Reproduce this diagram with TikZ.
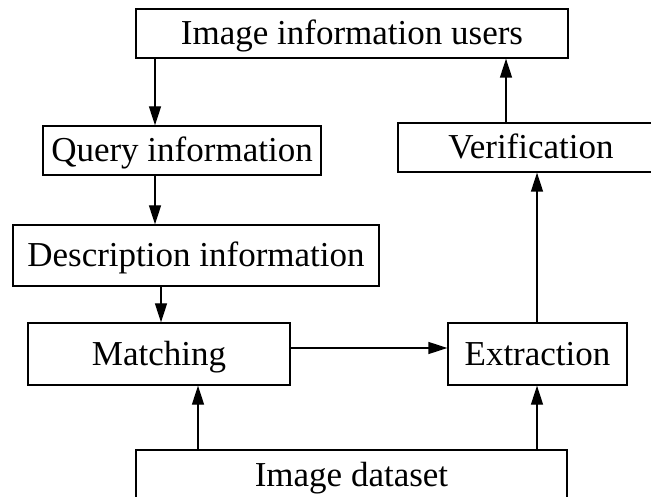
\documentclass[tikz,border=0pt]{standalone}
\usepackage{fontspec}
\setmainfont{Liberation Serif}
\usetikzlibrary{arrows.meta}
\tikzset{
  box/.style={draw, line width=1.3pt, inner sep=0pt, text height=23pt, text depth=0pt,
    font=\fontsize{35}{40}\selectfont},
  arr/.style={line width=1.3pt, -{Triangle[length=19pt, width=12pt]}}
}
\begin{document}
\begin{tikzpicture}[x=1pt, y=-1pt]
\useasboundingbox (0,0) rectangle (651,497);
\clip (0,0) rectangle (651,497);
\node[box, minimum width=432pt, minimum height=49pt] (users) at (352,33.5) {Image information users};
\node[box, minimum width=278pt, minimum height=49pt] (query) at (182,150.5) {Query information};
\node[box, minimum width=266pt, minimum height=49pt] (verif) at (531,147.5) {Verification};
\node[box, minimum width=366pt, minimum height=61pt] (desc) at (196,255.5) {Description information};
\node[box, minimum width=262pt, minimum height=62pt] (match) at (159,354) {Matching};
\node[box, minimum width=179pt, minimum height=62pt] (extr) at (537.5,354) {Extraction};
\node[box, minimum width=431pt, minimum height=49pt] (data) at (351.5,474.5) {Image dataset};
\coordinate (x1) at (155,0);
\coordinate (x2) at (161,0);
\coordinate (x3) at (198,0);
\coordinate (x4) at (537,0);
\coordinate (x5) at (506,0);
\coordinate (y1) at (0,348);
\draw[arr] (users.south -| x1) -- (query.north -| x1);
\draw[arr] (query.south -| x1) -- (desc.north -| x1);
\draw[arr] (desc.south -| x2) -- (match.north -| x2);
\draw[arr] (match.east |- y1) -- (extr.west |- y1);
\draw[arr] (data.north -| x3) -- (match.south -| x3);
\draw[arr] (data.north -| x4) -- (extr.south -| x4);
\draw[arr] (extr.north -| x4) -- (verif.south -| x4);
\draw[arr] (verif.north -| x5) -- (users.south -| x5);
\end{tikzpicture}
\end{document}
